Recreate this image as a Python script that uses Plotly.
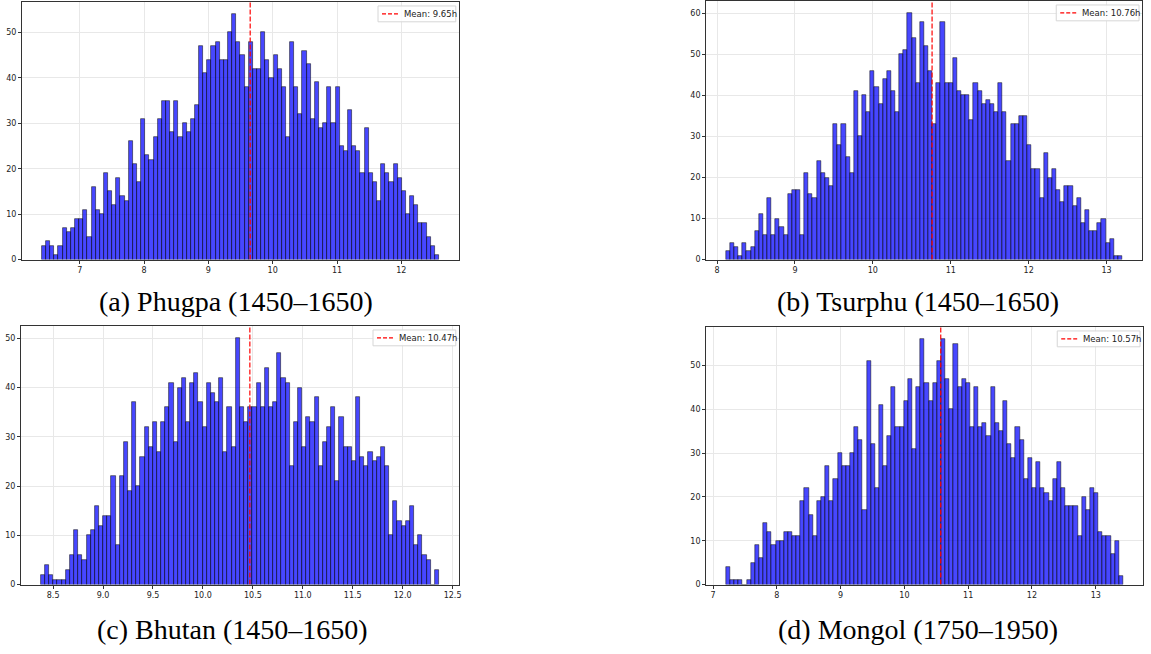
import numpy as np
import plotly.graph_objects as go

# ---------------- data ----------------
titles = ["(a) Phugpa (1450–1650)", "(b) Tsurphu (1450–1650)",
          "(c) Bhutan (1450–1650)", "(d) Mongol (1750–1950)"]

phugpa_counts = [3, 4, 3, 1, 3, 7, 6, 7, 9, 9, 11, 5, 16, 11, 10, 19, 15, 12, 18, 14,
                 13, 26, 21, 17, 31, 23, 22, 27, 31, 35, 35, 28, 35, 27, 30, 28, 31, 34, 47, 41,
                 44, 47, 48, 44, 44, 50, 54, 48, 45, 38, 48, 42, 42, 50, 44, 40, 45, 42, 38, 27,
                 48, 38, 32, 46, 43, 31, 39, 29, 30, 38, 30, 38, 25, 24, 33, 25, 24, 19, 29, 19,
                 17, 13, 21, 19, 17, 21, 18, 15, 10, 14, 12, 8, 8, 5, 3, 1]
phugpa_range = (6.41, 12.585)
phugpa_mean = 9.65

tsurphu_counts = [2, 4, 3, 1, 4, 2, 3, 7, 11, 6, 15, 6, 10, 8, 6, 16, 17, 17, 6, 21,
                  16, 15, 24, 21, 20, 18, 33, 28, 33, 25, 21, 41, 30, 40, 36, 46, 42, 38, 44, 46,
                  41, 36, 50, 51, 60, 54, 43, 58, 52, 46, 33, 43, 58, 43, 43, 49, 41, 40, 40, 34,
                  43, 41, 38, 39, 38, 36, 43, 36, 24, 33, 33, 35, 35, 28, 22, 22, 15, 26, 20, 22,
                  17, 14, 18, 18, 13, 15, 9, 12, 7, 7, 9, 10, 4, 5, 1, 1]
tsurphu_range = (8.115, 13.2)
tsurphu_mean = 10.76

bhutan_counts = [2, 4, 2, 1, 1, 1, 3, 6, 11, 6, 5, 10, 11, 16, 12, 14, 14, 22, 8, 22,
                 29, 19, 37, 20, 26, 32, 28, 33, 27, 33, 36, 41, 29, 40, 42, 33, 41, 43, 37, 32,
                 41, 39, 37, 42, 27, 36, 28, 50, 36, 33, 36, 36, 41, 36, 44, 36, 37, 47, 42, 41,
                 24, 33, 40, 28, 34, 33, 38, 24, 29, 32, 36, 21, 34, 28, 28, 25, 38, 26, 24, 27,
                 25, 26, 28, 24, 10, 17, 13, 12, 13, 16, 8, 10, 6, 5, 0, 3]
bhutan_range = (8.377, 12.363)
bhutan_mean = 10.47

mongol_counts = [4, 1, 1, 1, 0, 1, 5, 9, 6, 14, 12, 9, 10, 10, 12, 12, 11, 11, 19, 22,
                 16, 11, 19, 20, 27, 19, 24, 30, 27, 27, 30, 36, 33, 17, 51, 32, 22, 41, 27, 34,
                 45, 36, 36, 42, 47, 31, 45, 56, 46, 42, 46, 51, 56, 47, 40, 55, 45, 47, 46, 36,
                 45, 36, 37, 34, 45, 37, 35, 42, 32, 29, 36, 33, 24, 29, 22, 28, 22, 21, 19, 24,
                 28, 22, 18, 18, 18, 11, 20, 17, 22, 21, 12, 11, 11, 7, 10, 2]
mongol_range = (7.203, 13.43)
mongol_mean = 10.57

x_ticks = [[7, 8, 9, 10, 11, 12],
           [8, 9, 10, 11, 12, 13],
           [8.5, 9.0, 9.5, 10.0, 10.5, 11.0, 11.5, 12.0, 12.5],
           [7, 8, 9, 10, 11, 12, 13]]
y_ticks = [[0, 10, 20, 30, 40, 50],
           [0, 10, 20, 30, 40, 50, 60],
           [0, 10, 20, 30, 40, 50],
           [0, 10, 20, 30, 40, 50]]

panels = [
    (phugpa_counts, phugpa_range, phugpa_mean),
    (tsurphu_counts, tsurphu_range, tsurphu_mean),
    (bhutan_counts, bhutan_range, bhutan_mean),
    (mongol_counts, mongol_range, mongol_mean),
]

# ---------------- layout geometry (pixels) ----------------
W, H = 1151, 654
boxes = [(22, 460, 1, 261), (708, 1145, 0, 261),
         (21, 460, 328, 589), (708, 1146, 329, 589)]
caption_centers = [(237, 303), (920, 303), (233, 634), (920, 634)]


def px(x, y):
    return x / W, 1 - y / H


fig = go.Figure()
layout = dict(width=W, height=H, margin=dict(l=0, r=0, t=0, b=0),
              paper_bgcolor="white", plot_bgcolor="white",
              bargap=0, barmode="overlay", showlegend=False)
shapes = []
annotations = []

for i, (counts, (lo, hi), mean) in enumerate(panels):
    n = len(counts)
    edges = np.linspace(lo, hi, n + 1)
    centers = (edges[:-1] + edges[1:]) / 2
    bw = edges[1] - edges[0]
    sfx = "" if i == 0 else str(i + 1)
    xa, ya = "x" + sfx, "y" + sfx
    ymax = max(counts) * 1.05
    fig.add_trace(go.Bar(
        x=centers, y=counts, width=bw, xaxis=xa, yaxis=ya,
        marker=dict(color="rgba(0,0,255,0.72)",
                    line=dict(color="rgba(0,0,0,0.7)", width=0.7)),
        hoverinfo="x+y"))
    label = f"Mean: {mean:.2f}h"
    fig.add_trace(go.Scatter(
        x=[mean, mean], y=[0, ymax], mode="lines", xaxis=xa, yaxis=ya,
        line=dict(color="red", dash="5px,2px", width=1.2), name=label))

    l, r, t, b = boxes[i]
    span = hi - lo
    axis_common = dict(showline=True, mirror=True, linecolor="#333333", linewidth=1,
                       showgrid=True, gridcolor="#e8e8e8", gridwidth=1,
                       ticks="outside", ticklen=3, tickcolor="#333333",
                       tickfont=dict(family="DejaVu Sans", size=8, color="#222222"),
                       zeroline=False)
    layout["xaxis" + sfx] = dict(axis_common, domain=[l / W, r / W], anchor=ya,
                                 range=[lo - 0.05 * span, hi + 0.05 * span],
                                 tickvals=x_ticks[i],
                                 tickformat=".1f" if i == 2 else "d")
    layout["yaxis" + sfx] = dict(axis_common, domain=[1 - b / H, 1 - t / H], anchor=xa,
                                 range=[0, ymax], tickvals=y_ticks[i])

    # legend box (matplotlib style, drawn in paper space)
    bw_px = 78 if len(label) <= 11 else 83
    x0, x1 = r - 3 - bw_px, r - 3
    y0, y1 = t + 4, t + 20
    (px0, py0), (px1, py1) = px(x0, y0), px(x1, y1)
    shapes.append(dict(type="rect", xref="paper", yref="paper", x0=px0, x1=px1,
                       y0=py1, y1=py0, line=dict(color="#d6d6d6", width=1),
                       fillcolor="rgba(255,255,255,0.85)", layer="above"))
    ym = (y0 + y1) / 2
    (lx0, ly), (lx1, _) = px(x0 + 4, ym), px(x0 + 20, ym)
    shapes.append(dict(type="line", xref="paper", yref="paper", x0=lx0, x1=lx1,
                       y0=ly, y1=ly, line=dict(color="red", dash="4px,2px", width=1.3),
                       layer="above"))
    tx, ty = px(x0 + 24, ym)
    annotations.append(dict(text=label, x=tx, y=ty, xref="paper", yref="paper",
                            showarrow=False, xanchor="left", yanchor="middle",
                            font=dict(family="DejaVu Sans", size=8.5, color="#222222")))

for i, (cx, cy) in enumerate(caption_centers):
    x, y = px(cx, cy)
    annotations.append(dict(text=titles[i], x=x, y=y, xref="paper",
                            yref="paper", showarrow=False, xanchor="center",
                            yanchor="middle",
                            font=dict(family="Liberation Serif", size=28, color="black")))
layout["annotations"] = annotations
layout["shapes"] = shapes
fig.update_layout(**layout)
fig.write_html("out.html")
